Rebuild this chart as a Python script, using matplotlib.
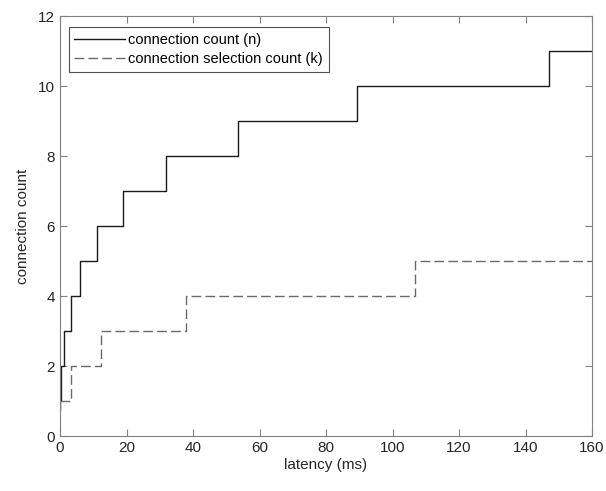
import matplotlib
matplotlib.use("Agg")
import matplotlib.pyplot as plt

# Data (step functions, value holds until next x)
latency_n = [0, 0.1, 0.35, 1.2, 3.4, 6.1, 11.0, 18.9, 31.9, 53.5, 89.2, 147.2, 160]
count_n = [0.75, 1, 2, 3, 4, 5, 6, 7, 8, 9, 10, 11, 11]
latency_k = [0, 3.2, 12.4, 38.0, 106.8, 160]
count_k = [1, 2, 3, 4, 5, 5]

xticks = [0, 20, 40, 60, 80, 100, 120, 140, 160]
yticks = [0, 2, 4, 6, 8, 10, 12]

plt.rcParams['font.family'] = ['Liberation Sans', 'DejaVu Sans']

fig = plt.figure(figsize=(6.06, 4.91), dpi=100)
ax = fig.add_axes([60/606, 55/491, 532/606, 420/491])

ax.step(latency_n, count_n, where='post', color='#1a1a1a', lw=1.0,
        label='connection count (n)')
ax.step(latency_k, count_k, where='post', color='#6a6a6a', lw=1.0,
        linestyle=(0, (7, 3)), label='connection selection count (k)')

ax.set_xlim(0, 160)
ax.set_ylim(0, 12)
ax.set_xticks(xticks)
ax.set_yticks(yticks)
ax.tick_params(direction='in', top=True, right=True, length=5, width=0.8,
               colors='#808080', labelcolor='#262626', labelsize=11)
for s in ax.spines.values():
    s.set_color('#808080')
    s.set_linewidth(0.8)

ax.set_xlabel('latency (ms)', fontsize=11, color='#262626', labelpad=2)
ax.set_ylabel('connection count', fontsize=11, color='#262626', labelpad=6)

leg = ax.legend(loc='upper left', bbox_to_anchor=(0.016, 0.974), fontsize=10.5,
                frameon=True, fancybox=False, edgecolor='#262626',
                handlelength=3.5, handletextpad=0.2, borderpad=0.4,
                labelspacing=0.35, borderaxespad=0)
leg.get_frame().set_linewidth(0.8)

fig.savefig('out.png', dpi=100)
